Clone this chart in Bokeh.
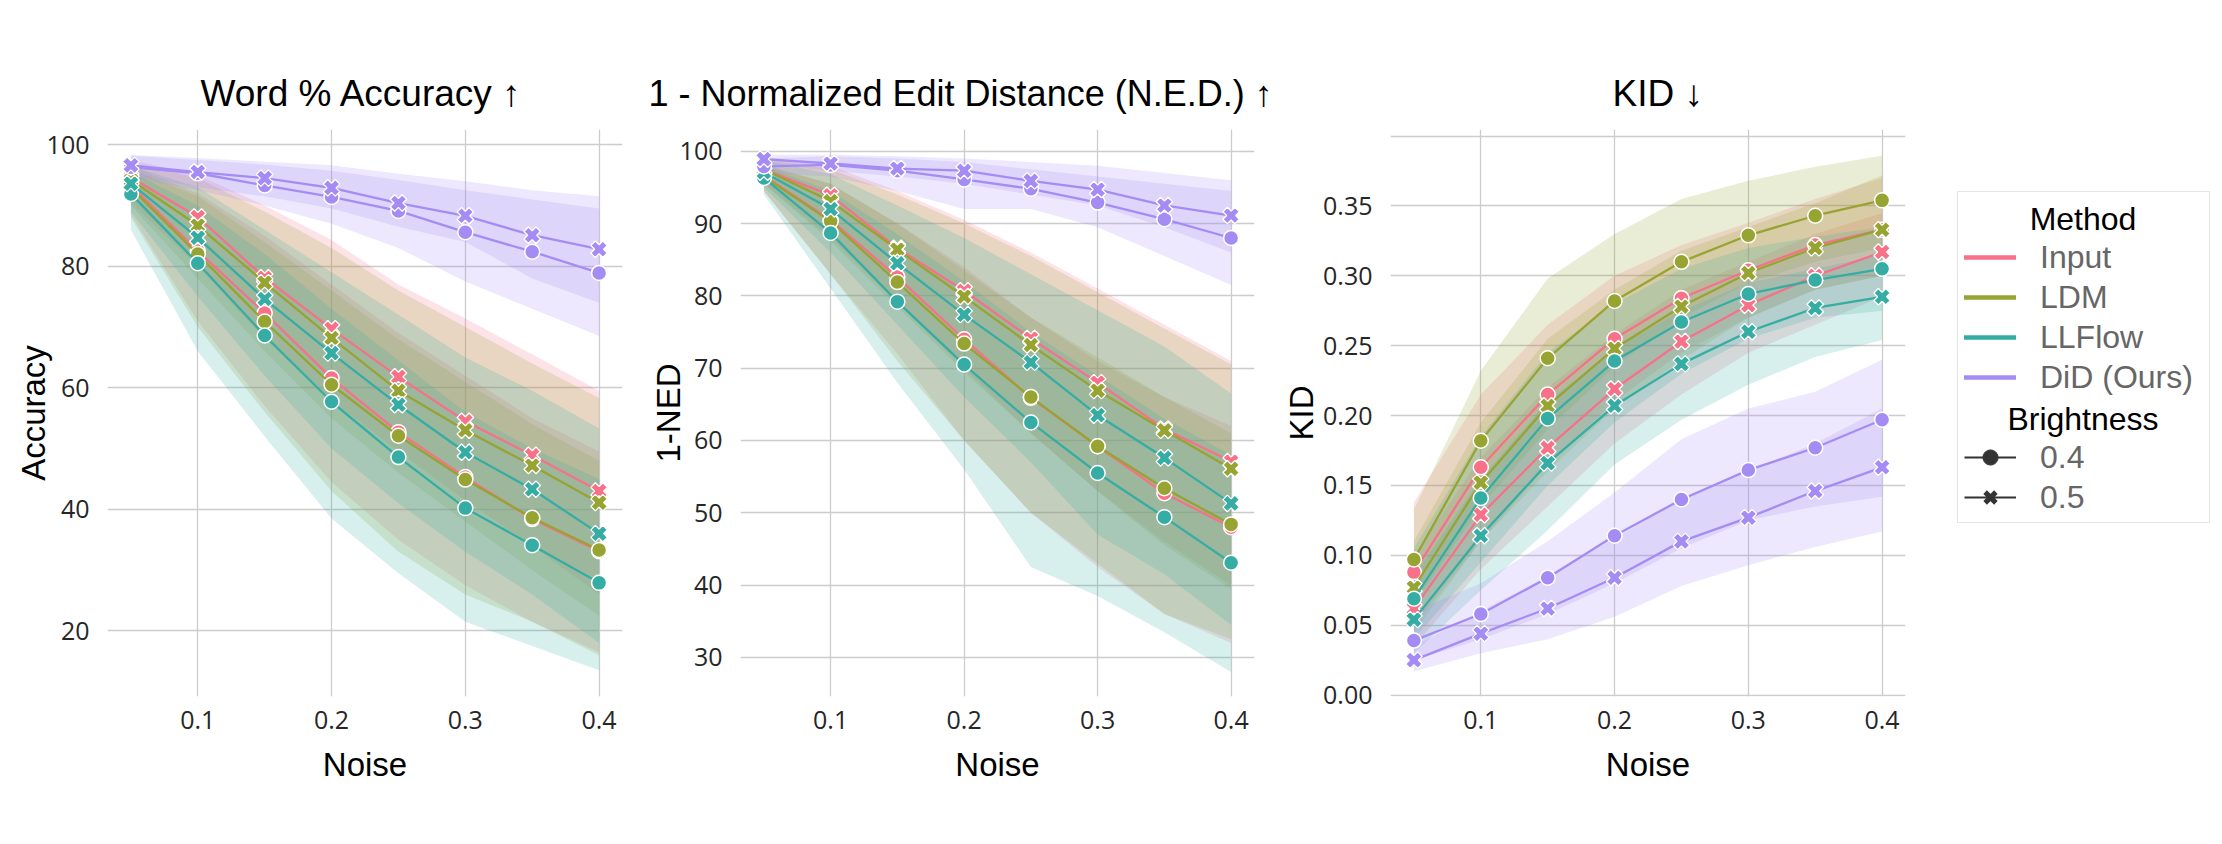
import numpy as np
from bokeh.plotting import figure
from bokeh.layouts import row
from bokeh.models import (Range1d, FixedTicker, NumeralTickFormatter, Legend,
                          LegendItem, Label)
from bokeh.embed import file_html
from bokeh.resources import INLINE

# ---------------- data ----------------
NOISE = [0.05, 0.10, 0.15, 0.20, 0.25, 0.30, 0.35, 0.40]
METHODS = ["Input", "LDM", "LLFlow", "DiD (Ours)"]
BRIGHTNESS = ["0.4", "0.5"]
COLORS = ["#f77189", "#97a431", "#36ada4", "#a48cf4"]
X_TICKS = [0.1, 0.2, 0.3, 0.4]

# Word % Accuracy
ACC_INPUT_04 = [93.3, 82.5, 72.3, 61.6, 52.7, 45.3, 38.4, 33.1]
ACC_INPUT_04_LO = [88.5, 71.0, 57.0, 44.5, 35.0, 27.5, 21.5, 16.5]
ACC_INPUT_04_HI = [96.5, 92.0, 85.0, 77.0, 69.0, 62.0, 55.0, 49.5]
ACC_INPUT_05 = [94.6, 88.1, 78.1, 69.7, 61.8, 54.5, 48.9, 43.0]
ACC_INPUT_05_LO = [90.5, 80.0, 68.0, 58.0, 49.5, 41.5, 34.0, 26.0]
ACC_INPUT_05_HI = [97.5, 95.0, 90.0, 84.3, 77.0, 71.4, 65.5, 59.5]
ACC_LDM_04 = [92.9, 82.0, 70.9, 60.5, 52.1, 44.9, 38.6, 33.3]
ACC_LDM_04_LO = [88.0, 70.0, 56.0, 43.0, 33.0, 26.0, 21.5, 16.0]
ACC_LDM_04_HI = [96.0, 91.5, 84.0, 76.0, 68.0, 61.0, 54.0, 48.0]
ACC_LDM_05 = [94.2, 86.7, 77.3, 68.2, 59.5, 53.0, 47.2, 41.1]
ACC_LDM_05_LO = [90.0, 78.0, 66.0, 55.0, 46.0, 38.0, 30.0, 22.5]
ACC_LDM_05_HI = [97.0, 94.5, 89.0, 83.0, 76.0, 70.0, 64.0, 58.3]
ACC_LLFLOW_04 = [91.9, 80.5, 68.6, 57.7, 48.6, 40.2, 34.1, 27.9]
ACC_LLFLOW_04_LO = [86.0, 66.0, 52.0, 38.5, 29.5, 21.5, 17.5, 13.5]
ACC_LLFLOW_04_HI = [95.5, 90.0, 82.0, 73.0, 64.5, 56.0, 50.0, 45.0]
ACC_LLFLOW_05 = [93.6, 84.7, 74.6, 65.7, 57.2, 49.4, 43.3, 36.0]
ACC_LLFLOW_05_LO = [89.0, 75.0, 62.0, 50.0, 41.0, 33.0, 26.0, 18.0]
ACC_LLFLOW_05_HI = [96.5, 93.0, 86.0, 79.0, 72.0, 65.0, 59.5, 53.3]
ACC_DID_04 = [96.3, 95.3, 93.3, 91.4, 89.1, 85.6, 82.4, 78.9]
ACC_DID_04_LO = [94.5, 92.5, 90.0, 87.0, 83.0, 77.5, 73.0, 68.5]
ACC_DID_04_HI = [98.2, 97.5, 96.7, 95.7, 94.2, 92.5, 91.0, 89.5]
ACC_DID_05 = [96.6, 95.5, 94.5, 92.9, 90.4, 88.3, 85.1, 82.8]
ACC_DID_05_LO = [95.0, 93.0, 91.5, 89.5, 86.5, 84.0, 78.0, 74.0]
ACC_DID_05_HI = [98.3, 97.8, 97.2, 96.6, 95.2, 94.0, 92.5, 91.5]
ACC_TICKS = [20, 40, 60, 80, 100]

# 1 - NED
NED_INPUT_04 = [96.6, 90.5, 82.6, 74.0, 65.9, 59.2, 52.7, 48.0]
NED_INPUT_04_LO = [94.5, 83.0, 72.0, 60.0, 50.0, 42.5, 36.0, 32.0]
NED_INPUT_04_HI = [98.2, 95.5, 90.0, 84.0, 77.0, 71.0, 66.0, 62.0]
NED_INPUT_05 = [97.5, 93.9, 86.6, 80.7, 74.1, 68.0, 61.6, 57.1]
NED_INPUT_05_LO = [95.5, 88.0, 79.0, 70.0, 61.0, 53.0, 46.0, 40.0]
NED_INPUT_05_HI = [99.0, 98.0, 94.5, 90.5, 86.0, 81.0, 76.0, 71.0]
NED_LDM_04 = [96.5, 90.3, 81.9, 73.4, 66.0, 59.2, 53.4, 48.4]
NED_LDM_04_LO = [94.5, 83.0, 71.0, 60.0, 50.0, 43.0, 36.0, 32.5]
NED_LDM_04_HI = [98.0, 95.5, 90.0, 83.5, 77.0, 71.5, 66.0, 61.0]
NED_LDM_05 = [97.5, 93.1, 86.4, 79.9, 73.2, 66.9, 61.4, 56.1]
NED_LDM_05_LO = [95.5, 87.5, 78.5, 69.5, 61.0, 53.0, 45.5, 39.5]
NED_LDM_05_HI = [99.0, 97.5, 94.0, 90.0, 85.5, 80.5, 75.5, 70.5]
NED_LLFLOW_04 = [96.3, 88.7, 79.2, 70.5, 62.5, 55.5, 49.4, 43.1]
NED_LLFLOW_04_LO = [94.0, 81.0, 68.0, 56.0, 42.5, 38.5, 33.5, 28.0]
NED_LLFLOW_04_HI = [98.0, 94.5, 88.5, 82.0, 75.0, 69.0, 63.0, 58.0]
NED_LLFLOW_05 = [97.1, 92.0, 84.5, 77.4, 70.8, 63.5, 57.6, 51.3]
NED_LLFLOW_05_LO = [95.0, 86.0, 76.0, 66.0, 57.0, 47.0, 41.5, 34.5]
NED_LLFLOW_05_HI = [98.8, 96.8, 92.5, 88.0, 83.0, 78.0, 73.0, 66.5]
NED_DID_04 = [97.9, 98.1, 97.3, 96.1, 94.8, 92.9, 90.6, 88.0]
NED_DID_04_LO = [97.0, 96.5, 94.5, 92.0, 92.0, 89.5, 85.5, 81.5]
NED_DID_04_HI = [99.0, 99.3, 99.0, 98.5, 97.5, 96.5, 95.5, 94.5]
NED_DID_05 = [98.9, 98.3, 97.6, 97.3, 95.9, 94.7, 92.5, 91.1]
NED_DID_05_LO = [98.3, 97.3, 96.5, 95.5, 94.0, 92.5, 89.5, 86.0]
NED_DID_05_HI = [99.5, 99.5, 99.3, 99.0, 98.5, 98.0, 97.0, 96.0]
NED_TICKS = [30, 40, 50, 60, 70, 80, 90, 100]

# KID
KID_INPUT_04 = [0.088, 0.163, 0.215, 0.255, 0.284, 0.304, 0.322, 0.333]
KID_INPUT_04_LO = [0.050, 0.110, 0.165, 0.210, 0.245, 0.270, 0.290, 0.300]
KID_INPUT_04_HI = [0.138, 0.215, 0.265, 0.300, 0.322, 0.338, 0.355, 0.370]
KID_INPUT_05 = [0.062, 0.129, 0.177, 0.219, 0.253, 0.279, 0.300, 0.317]
KID_INPUT_05_LO = [0.035, 0.090, 0.135, 0.180, 0.215, 0.245, 0.265, 0.285]
KID_INPUT_05_HI = [0.100, 0.170, 0.220, 0.258, 0.290, 0.310, 0.330, 0.345]
KID_LDM_04 = [0.097, 0.182, 0.241, 0.282, 0.310, 0.329, 0.343, 0.354]
KID_LDM_04_LO = [0.065, 0.135, 0.190, 0.235, 0.270, 0.295, 0.310, 0.320]
KID_LDM_04_HI = [0.133, 0.232, 0.298, 0.330, 0.355, 0.368, 0.378, 0.386]
KID_LDM_05 = [0.077, 0.152, 0.207, 0.248, 0.278, 0.302, 0.320, 0.333]
KID_LDM_05_LO = [0.045, 0.110, 0.160, 0.205, 0.240, 0.270, 0.290, 0.300]
KID_LDM_05_HI = [0.110, 0.195, 0.255, 0.290, 0.318, 0.335, 0.352, 0.372]
KID_LLFLOW_04 = [0.069, 0.141, 0.198, 0.239, 0.267, 0.287, 0.297, 0.305]
KID_LLFLOW_04_LO = [0.040, 0.095, 0.150, 0.195, 0.230, 0.255, 0.270, 0.275]
KID_LLFLOW_04_HI = [0.105, 0.185, 0.245, 0.280, 0.305, 0.320, 0.328, 0.335]
KID_LLFLOW_05 = [0.054, 0.114, 0.166, 0.207, 0.237, 0.260, 0.277, 0.285]
KID_LLFLOW_05_LO = [0.030, 0.075, 0.118, 0.165, 0.197, 0.222, 0.242, 0.254]
KID_LLFLOW_05_HI = [0.085, 0.155, 0.210, 0.248, 0.275, 0.295, 0.305, 0.315]
KID_DID_04 = [0.039, 0.058, 0.084, 0.114, 0.140, 0.161, 0.177, 0.197]
KID_DID_04_LO = [0.025, 0.040, 0.058, 0.080, 0.105, 0.125, 0.135, 0.142]
KID_DID_04_HI = [0.060, 0.080, 0.110, 0.145, 0.183, 0.205, 0.217, 0.240]
KID_DID_05 = [0.025, 0.044, 0.062, 0.084, 0.110, 0.127, 0.146, 0.163]
KID_DID_05_LO = [0.017, 0.030, 0.040, 0.056, 0.078, 0.093, 0.106, 0.117]
KID_DID_05_HI = [0.035, 0.060, 0.085, 0.112, 0.140, 0.160, 0.180, 0.205]
KID_TICKS = [0.0, 0.05, 0.10, 0.15, 0.20, 0.25, 0.30, 0.35]
KID_GRID = [0.0, 0.05, 0.10, 0.15, 0.20, 0.25, 0.30, 0.35, 0.40]

ACC = [
    [(ACC_INPUT_04, ACC_INPUT_04_LO, ACC_INPUT_04_HI), (ACC_INPUT_05, ACC_INPUT_05_LO, ACC_INPUT_05_HI)],
    [(ACC_LDM_04, ACC_LDM_04_LO, ACC_LDM_04_HI), (ACC_LDM_05, ACC_LDM_05_LO, ACC_LDM_05_HI)],
    [(ACC_LLFLOW_04, ACC_LLFLOW_04_LO, ACC_LLFLOW_04_HI), (ACC_LLFLOW_05, ACC_LLFLOW_05_LO, ACC_LLFLOW_05_HI)],
    [(ACC_DID_04, ACC_DID_04_LO, ACC_DID_04_HI), (ACC_DID_05, ACC_DID_05_LO, ACC_DID_05_HI)],
]
NED = [
    [(NED_INPUT_04, NED_INPUT_04_LO, NED_INPUT_04_HI), (NED_INPUT_05, NED_INPUT_05_LO, NED_INPUT_05_HI)],
    [(NED_LDM_04, NED_LDM_04_LO, NED_LDM_04_HI), (NED_LDM_05, NED_LDM_05_LO, NED_LDM_05_HI)],
    [(NED_LLFLOW_04, NED_LLFLOW_04_LO, NED_LLFLOW_04_HI), (NED_LLFLOW_05, NED_LLFLOW_05_LO, NED_LLFLOW_05_HI)],
    [(NED_DID_04, NED_DID_04_LO, NED_DID_04_HI), (NED_DID_05, NED_DID_05_LO, NED_DID_05_HI)],
]
KID = [
    [(KID_INPUT_04, KID_INPUT_04_LO, KID_INPUT_04_HI), (KID_INPUT_05, KID_INPUT_05_LO, KID_INPUT_05_HI)],
    [(KID_LDM_04, KID_LDM_04_LO, KID_LDM_04_HI), (KID_LDM_05, KID_LDM_05_LO, KID_LDM_05_HI)],
    [(KID_LLFLOW_04, KID_LLFLOW_04_LO, KID_LLFLOW_04_HI), (KID_LLFLOW_05, KID_LLFLOW_05_LO, KID_LLFLOW_05_HI)],
    [(KID_DID_04, KID_DID_04_LO, KID_DID_04_HI), (KID_DID_05, KID_DID_05_LO, KID_DID_05_HI)],
]

# ---------------- styling ----------------
TITLE_FONT = "Liberation Sans"
TICK_FONT = "Open Sans"
FRAME_H = 567
TOP = 129
BOTTOM = 844 - TOP - FRAME_H


def make_panel(title, ylabel, data, y_range, y_ticks, left, frame_w, right,
               title_offset=0, title_size="37px", ylabel_standoff=0,
               grid_ticks=None, fmt=None):
    p = figure(frame_width=frame_w, frame_height=FRAME_H,
               min_border_left=left, min_border_right=right,
               min_border_top=TOP, min_border_bottom=BOTTOM,
               x_range=Range1d(0.0325, 0.4175), y_range=Range1d(*y_range),
               title=title, output_backend="svg", toolbar_location=None)
    p.title.text_font = TITLE_FONT
    p.title.text_font_size = title_size
    p.title.text_font_style = "normal"
    p.title.text_color = "black"
    p.title.align = "left"
    p.title.offset = title_offset
    p.title.standoff = 32
    p.outline_line_color = None
    p.background_fill_color = "white"
    p.border_fill_color = "white"

    p.xaxis.ticker = FixedTicker(ticks=X_TICKS)
    p.yaxis.ticker = FixedTicker(ticks=y_ticks)
    if fmt is not None:
        p.yaxis.formatter = NumeralTickFormatter(format=fmt)
    p.xgrid.ticker = FixedTicker(ticks=X_TICKS)
    p.ygrid.ticker = FixedTicker(ticks=grid_ticks if grid_ticks else y_ticks)
    p.xaxis.axis_label = "Noise"
    p.yaxis.axis_label = ylabel
    for ax in p.axis:
        ax.axis_line_color = None
        ax.major_tick_line_color = None
        ax.minor_tick_line_color = None
        ax.major_tick_out = 0
        ax.major_tick_in = 0
        ax.minor_tick_out = 0
        ax.minor_tick_in = 0
        ax.major_label_text_font = TICK_FONT
        ax.major_label_text_font_size = "25px"
        ax.major_label_text_color = "#262626"
        ax.axis_label_text_font = TITLE_FONT
        ax.axis_label_text_font_size = "33px"
        ax.axis_label_text_font_style = "normal"
        ax.axis_label_text_color = "black"
    p.yaxis.major_label_standoff = 18
    p.yaxis.axis_label_standoff = ylabel_standoff
    p.xaxis.major_label_standoff = 14
    p.xaxis.axis_label_standoff = 14
    p.grid.grid_line_color = "#cccccc"
    p.grid.grid_line_width = 1.3

    # confidence bands
    for mi, method in enumerate(data):
        for bi, (mean, lo, hi) in enumerate(method):
            p.varea(x=NOISE, y1=lo, y2=hi, fill_color=COLORS[mi],
                    fill_alpha=0.2)
    # lines + markers
    for mi, method in enumerate(data):
        for bi, (mean, lo, hi) in enumerate(method):
            p.line(x=NOISE, y=mean, line_color=COLORS[mi], line_width=2.3)
            if bi == 0:
                p.scatter(x=NOISE, y=mean, marker="circle", size=15,
                          fill_color=COLORS[mi], line_color="white",
                          line_width=1.5)
            else:
                p.scatter(x=NOISE, y=mean, marker="plus", angle=np.pi / 4,
                          size=17, fill_color=COLORS[mi], line_color="white",
                          line_width=1.3)
    return p


p1 = make_panel("Word % Accuracy \u2191", "Accuracy", ACC, (9.2, 102.5),
                ACC_TICKS, 107, 515, 18, title_offset=93, ylabel_standoff=-8)
p2 = make_panel("1 - Normalized Edit Distance (N.E.D.) \u2191", "1-NED", NED,
                (24.6, 103.0), NED_TICKS, 100, 514, 21, title_offset=-92,
                title_size="36px", ylabel_standoff=-10)
p3 = make_panel("KID \u2193", "KID", KID, (-0.001, 0.4047), KID_TICKS, 115,
                515, 25, title_offset=222, ylabel_standoff=0,
                grid_ticks=KID_GRID, fmt="0.00")

# ---------------- legend panel ----------------
# proxy renderers for the legend glyphs (kept outside this panel's ranges)
p4 = figure(width=292, height=844, x_range=Range1d(1, 2), y_range=Range1d(1, 2),
            x_axis_location=None, y_axis_location=None, min_border=0,
            output_backend="svg", toolbar_location=None)
p4.outline_line_color = None
p4.grid.visible = False
p4.background_fill_color = "white"
px, py = NOISE[:1], NOISE[:1]
blank = p4.line(x=px, y=py, line_alpha=0)
method_rs = [p4.line(x=px, y=py, line_color=c, line_width=4.5, line_cap="round")
             for c in COLORS]
dark_line = p4.line(x=px, y=py, line_color="#333333", line_width=2)
dark_circle = p4.scatter(x=px, y=py, marker="circle", size=15,
                         fill_color="#333333", line_color="#333333")
dark_x = p4.scatter(x=px, y=py, marker="x", size=15, line_color="#333333",
                    line_width=5)
items = [LegendItem(label=" ", renderers=[blank])]
items += [LegendItem(label=m, renderers=[r]) for m, r in zip(METHODS, method_rs)]
items += [LegendItem(label=" ", renderers=[blank]),
          LegendItem(label=BRIGHTNESS[0], renderers=[dark_line, dark_circle]),
          LegendItem(label=BRIGHTNESS[1], renderers=[dark_line, dark_x])]
legend = Legend(items=items, location=(27, 173), orientation="vertical",
                padding=6, spacing=2, margin=0, glyph_width=52, glyph_height=38,
                label_height=38, label_width=163, label_standoff=24,
                label_text_font=TITLE_FONT, label_text_font_size="32px",
                label_text_color="#666666", border_line_color="#cccccc",
                border_line_width=1.3, background_fill_alpha=0.0)
p4.add_layout(legend)
for txt, yy in (("Method", 478), ("Brightness", 278)):
    p4.add_layout(Label(x=152.5, y=yy, x_units="screen", y_units="screen",
                        text=txt, text_align="center", text_baseline="middle",
                        text_font=TITLE_FONT, text_font_size="32px",
                        text_color="black"))

layout = row(p1, p2, p3, p4)
open("out.html", "w").write(file_html(layout, INLINE))
